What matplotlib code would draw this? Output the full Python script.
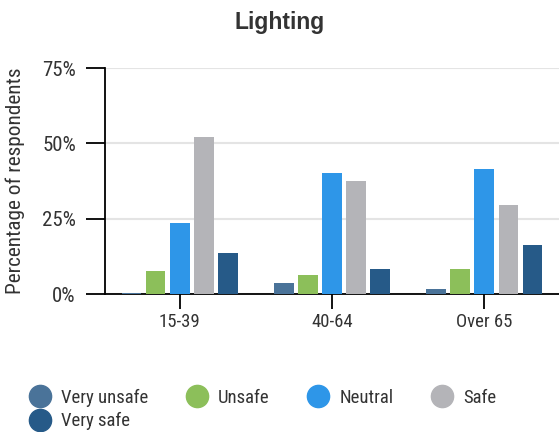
import matplotlib.pyplot as plt
from matplotlib.lines import Line2D
import numpy as np

plt.rcParams['font.family'] = ['Roboto Condensed', 'Roboto', 'DejaVu Sans']

groups = ['15-39', '40-64', 'Over 65']
levels = ['Very unsafe', 'Unsafe', 'Neutral', 'Safe', 'Very safe']
colors = ['#4a7399', '#8cbf5a', '#2e96e8', '#b4b4b8', '#265a88']

# percentage of respondents per level, one list per age group order
very_unsafe = [0.3, 3.6, 1.7]
unsafe = [7.7, 6.3, 8.3]
neutral = [23.6, 40.2, 41.5]
safe = [52.1, 37.5, 29.5]
very_safe = [13.6, 8.3, 16.3]
series = [very_unsafe, unsafe, neutral, safe, very_safe]

fig = plt.figure(figsize=(5.59, 4.32), dpi=100)
ax = fig.add_axes([105 / 559, 1 - 294 / 432, 1 - 105 / 559, (294 - 68) / 432])

x = np.arange(len(groups))
pitch = 0.158
width = 0.13
for i, (vals, c) in enumerate(zip(series, colors)):
    ax.bar(x + (i - 2) * pitch, vals, width, color=c, zorder=3)

ax.set_xlim(-0.49, 2.49)
ax.set_ylim(0, 75)
ax.set_yticks([0, 25, 50, 75])
ax.set_yticklabels(['0%', '25%', '50%', '75%'])
ax.set_xticks(x)
ax.set_xticklabels(groups)
ax.grid(axis='y', color='#e4e4e4', linewidth=1.5, zorder=0)

for s in ['top', 'right']:
    ax.spines[s].set_visible(False)
for s in ['left', 'bottom']:
    ax.spines[s].set_color('black')
    ax.spines[s].set_linewidth(1.3)
ax.tick_params(axis='y', length=14, width=1.3, color='black', labelsize=15,
               labelcolor='#333333', pad=7)
ax.tick_params(axis='x', length=11, width=1.3, color='black', labelsize=13.5,
               labelcolor='#333333', pad=3)

ax.set_ylabel('Percentage of respondents', fontsize=15.3, color='#333333', labelpad=12)
fig.text(0.5, 1 - 22 / 432, 'Lighting', ha='center', va='center',
         family=['Liberation Sans', 'DejaVu Sans'],
         fontsize=16.5, fontweight='bold', color='#333333')

# legend fills columns first, so reorder to read row by row
order = [0, 4, 1, 2, 3]
handles = [Line2D([], [], marker='o', linestyle='none', markersize=16,
                  markerfacecolor=colors[i], markeredgecolor=colors[i]) for i in order]
fig.legend(handles, [levels[i] for i in order], loc='upper left',
           bbox_to_anchor=(24 / 559, 1 - 381 / 432),
           ncol=4, frameon=False, fontsize=13.5, labelcolor='#333333',
           handlelength=0.9, handletextpad=0.67, columnspacing=2.15,
           labelspacing=0.3, borderaxespad=0)

fig.savefig('out.png', dpi=100)
